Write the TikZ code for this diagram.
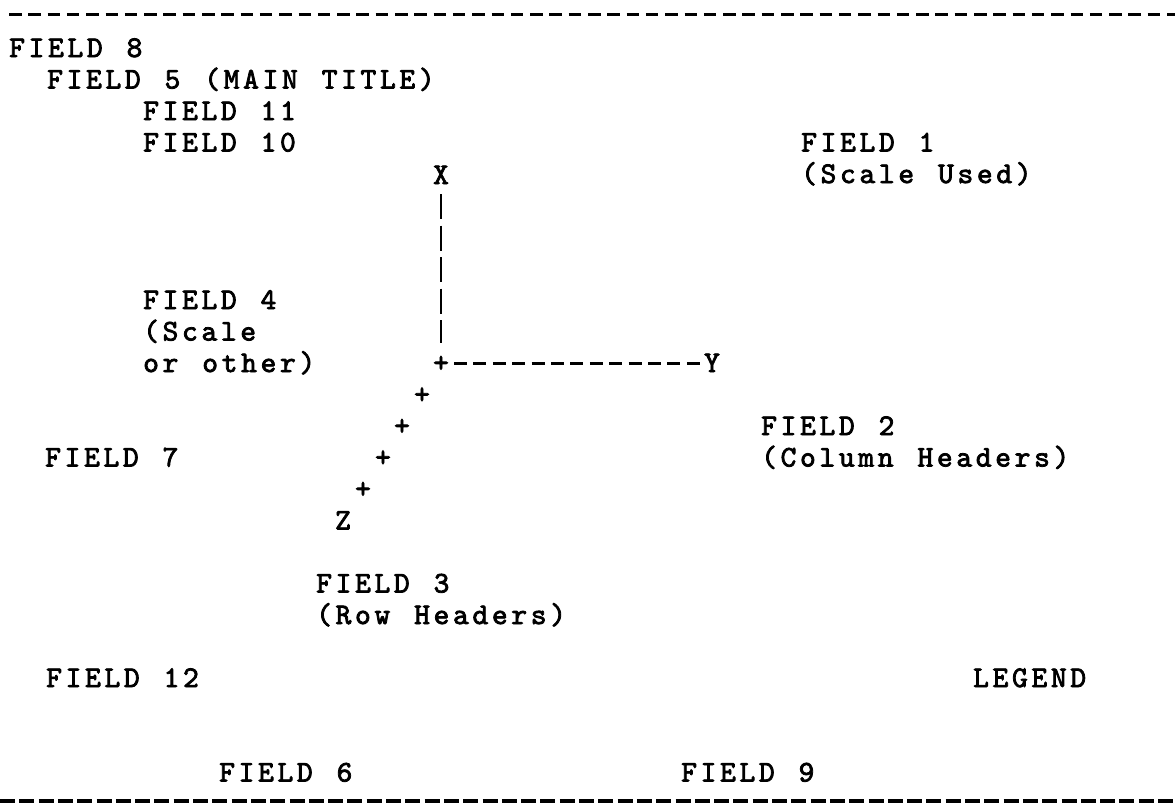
\documentclass[tikz,border=0pt]{standalone}
\usepackage{fontspec}
\newfontfamily\twfont{lmmono10-regular.otf}[LetterSpace=12.3,WordSpace=1.23,FakeBold=2.6]
\newfontfamily\chfont{lmmono10-regular.otf}[FakeBold=2.6]
\tikzset{
  txt/.style={font=\twfont\fontsize{30pt}{36pt}\selectfont, inner sep=0pt, anchor=base west},
  chr/.style={font=\chfont\fontsize{30pt}{36pt}\selectfont, inner sep=0pt, anchor=base,
    text height=18pt, text depth=0pt},
  toprule/.style={line width=3pt, dash pattern=on 12.5pt off 6.8pt},
  botrule/.style={line width=4pt, dash pattern=on 15pt off 4.3pt},
  vaxis/.style={line width=1.8pt, dash pattern=on 25pt off 6.5pt, shorten <=10pt, shorten >=11pt},
  haxis/.style={line width=3pt, dash pattern=on 13pt off 6.4pt, shorten <=13pt, shorten >=12pt},
}
\begin{document}
\begin{tikzpicture}[x=1pt,y=-1pt]
\fill[white] (0,0) rectangle (1175,807);
\useasboundingbox (0,0) rectangle (1175,807);
% rules
\coordinate (tl) at (9,14); \coordinate (tr) at (1175,14);
\coordinate (bl) at (0,801); \coordinate (br) at (1175,801);
\draw[toprule] (tl) -- (tr);
\draw[botrule] (bl) -- (br);
% fields
\node[txt] (f8) at (9,57) {FIELD 8};
\node[txt] (f5) at (47,88.5) {FIELD 5 (MAIN TITLE)};
\node[txt] (f11) at (143,120) {FIELD 11};
\node[txt] (f10) at (143,151.5) {FIELD 10};
\node[txt] (f1) at (801,151.5) {FIELD 1};
\node[txt] (f1b) at (801,183) {(Scale Used)};
\node[txt] (f4) at (143,309) {FIELD 4};
\node[txt] (f4b) at (143,340.5) {(Scale};
\node[txt] (f4c) at (143,372) {or other)};
\node[txt] (f2) at (761,435) {FIELD 2};
\node[txt] (f2b) at (761,466.5) {(Column Headers)};
\node[txt] (f7) at (45,466.5) {FIELD 7};
\node[txt] (f3) at (316,592.5) {FIELD 3};
\node[txt] (f3b) at (316,624) {(Row Headers)};
\node[txt] (f12) at (46,687) {FIELD 12};
\node[txt] (leg) at (973,687) {LEGEND};
\node[txt] (f6) at (219,781.5) {FIELD 6};
\node[txt] (f9) at (681,781.5) {FIELD 9};
% axes
\node[chr] (X) at (441,184) {X};
\node[chr] (O) at (441,372) {+};
\node[chr] (Y) at (712,372) {Y};
\node[chr] (p1) at (422,403.5) {+};
\node[chr] (p2) at (402,435) {+};
\node[chr] (p3) at (383,466.5) {+};
\node[chr] (p4) at (363,498) {+};
\node[chr] (Z) at (343,529.5) {Z};
\draw[vaxis] (X.south) -- (O.north);
\draw[haxis] (O.center) -- (Y.center);
\end{tikzpicture}
\end{document}
